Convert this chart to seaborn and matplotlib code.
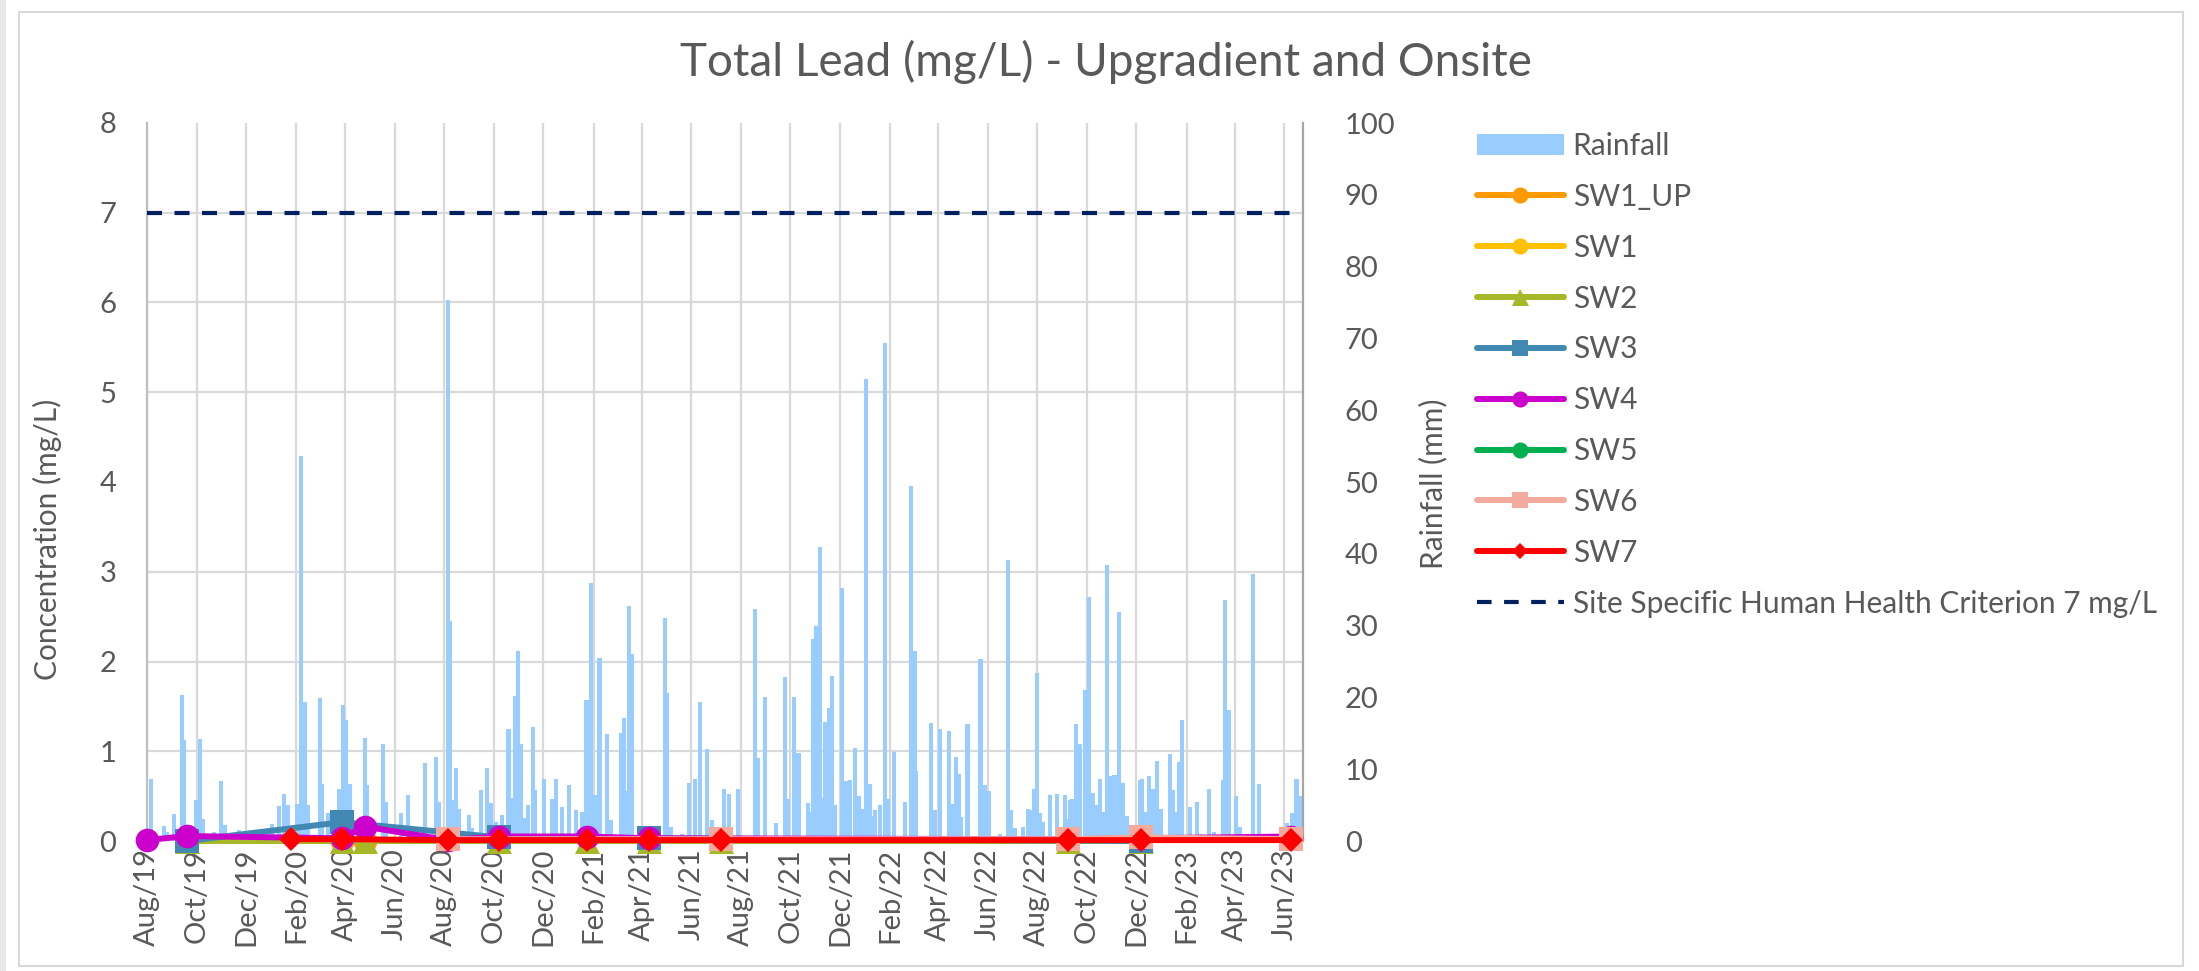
import matplotlib
matplotlib.use("Agg")
import matplotlib.pyplot as plt
import matplotlib.dates as mdates
from matplotlib.lines import Line2D
from matplotlib.patches import Patch, Rectangle
from matplotlib.ticker import MultipleLocator
import pandas as pd
import seaborn as sns

sns.set_theme(style="white")
plt.rcParams["font.family"] = ["Lato", "DejaVu Sans"]

TEXT = "#595959"
W, H = 2199, 971

# ─── daily rainfall (mm) ─────────────────────────────────────────────────────
rain_dates = [
    "2019-08-06", "2019-08-22", "2019-08-26", "2019-09-03", "2019-09-13", "2019-09-15",
    "2019-09-30", "2019-10-05", "2019-10-09", "2019-10-22", "2019-10-31", "2019-11-05",
    "2019-11-22", "2020-01-02", "2020-01-11", "2020-01-17", "2020-01-21", "2020-02-02",
    "2020-02-06", "2020-02-12", "2020-02-15", "2020-03-01", "2020-03-03", "2020-03-11",
    "2020-03-24", "2020-03-29", "2020-04-02", "2020-04-07", "2020-04-25", "2020-04-28",
    "2020-05-18", "2020-05-21", "2020-06-09", "2020-06-17", "2020-07-08", "2020-07-22",
    "2020-07-25", "2020-08-05", "2020-08-08", "2020-08-11", "2020-08-15", "2020-08-19",
    "2020-08-31", "2020-09-04", "2020-09-15", "2020-09-22", "2020-09-27", "2020-10-04",
    "2020-10-11", "2020-10-19", "2020-10-23", "2020-10-27", "2020-10-31", "2020-11-03",
    "2020-11-08", "2020-11-12", "2020-11-18", "2020-11-21", "2020-12-02", "2020-12-12",
    "2020-12-17", "2020-12-24", "2021-01-01", "2021-01-10", "2021-01-18", "2021-01-23",
    "2021-01-28", "2021-02-03", "2021-02-08", "2021-02-17", "2021-02-22", "2021-03-06",
    "2021-03-10", "2021-03-13", "2021-03-16", "2021-03-20", "2021-04-30", "2021-05-02",
    "2021-05-07", "2021-05-21", "2021-05-29", "2021-06-05", "2021-06-12", "2021-06-20",
    "2021-06-26", "2021-07-11", "2021-07-18", "2021-07-29", "2021-08-18", "2021-08-22",
    "2021-08-31", "2021-09-13", "2021-09-24", "2021-09-28", "2021-10-06", "2021-10-11",
    "2021-10-23", "2021-10-26", "2021-10-29", "2021-11-01", "2021-11-06", "2021-11-10",
    "2021-11-13", "2021-11-17", "2021-11-21", "2021-11-25", "2021-12-04", "2021-12-09",
    "2021-12-13", "2021-12-19", "2021-12-24", "2021-12-29", "2022-01-02", "2022-01-07",
    "2022-01-10", "2022-01-13", "2022-01-19", "2022-01-25", "2022-01-29", "2022-02-06",
    "2022-02-19", "2022-02-27", "2022-03-03", "2022-03-05", "2022-03-23", "2022-03-28",
    "2022-04-03", "2022-04-14", "2022-04-18", "2022-04-23", "2022-04-26", "2022-04-29",
    "2022-05-07", "2022-05-23", "2022-05-29", "2022-06-03", "2022-06-16", "2022-06-26",
    "2022-06-30", "2022-07-05", "2022-07-14", "2022-07-20", "2022-07-25", "2022-07-28",
    "2022-07-31", "2022-08-04", "2022-08-08", "2022-08-17", "2022-08-25", "2022-09-04",
    "2022-09-07", "2022-09-10", "2022-09-13", "2022-09-18", "2022-09-22", "2022-09-29",
    "2022-10-03", "2022-10-09", "2022-10-12", "2022-10-17", "2022-10-21", "2022-10-26",
    "2022-10-31", "2022-11-04", "2022-11-09", "2022-11-15", "2022-11-19", "2022-12-05",
    "2022-12-08", "2022-12-12", "2022-12-17", "2022-12-21", "2022-12-26", "2022-12-31",
    "2023-01-11", "2023-01-15", "2023-01-20", "2023-01-23", "2023-01-26", "2023-02-05",
    "2023-02-13", "2023-02-19", "2023-02-28", "2023-03-06", "2023-03-17", "2023-03-20",
    "2023-03-25", "2023-04-02", "2023-04-07", "2023-04-23", "2023-05-01", "2023-06-04",
    "2023-06-10", "2023-06-16", "2023-06-21",
]
rain_mm = [
    8.6, 2.1, 1.3, 3.8, 20.3, 14.0,
    5.7, 14.2, 3.0, 1.3, 8.4, 2.2,
    1.5, 2.3, 4.9, 6.6, 5.0, 5.2,
    53.6, 19.3, 5.0, 19.9, 8.0, 3.9,
    7.3, 18.9, 16.8, 8.0, 14.3, 7.8,
    13.5, 5.5, 3.9, 6.4, 10.9, 11.7,
    5.5, 75.4, 30.7, 5.7, 10.1, 4.5,
    3.6, 1.8, 7.1, 10.1, 5.3, 2.7,
    3.6, 15.6, 6.0, 20.2, 26.5, 13.5,
    3.2, 5.0, 15.9, 7.1, 8.7, 5.9,
    8.7, 4.8, 7.8, 4.3, 4.0, 19.6,
    36.0, 6.4, 25.5, 14.9, 2.9, 15.0,
    17.1, 7.0, 32.7, 26.0, 31.0, 20.6,
    2.0, 1.0, 8.1, 8.6, 19.4, 12.8,
    2.9, 7.3, 6.6, 7.3, 32.3, 11.5,
    20.1, 2.5, 22.8, 5.9, 20.0, 12.3,
    5.3, 4.0, 28.1, 29.9, 41.0, 6.0,
    16.6, 18.5, 23.0, 5.0, 35.3, 8.3,
    8.5, 13.0, 6.2, 4.5, 64.4, 8.0,
    3.5, 4.3, 5.0, 69.4, 5.9, 12.4,
    5.5, 49.4, 26.5, 9.7, 16.4, 4.3,
    15.6, 15.3, 5.2, 11.7, 9.4, 3.4,
    16.3, 25.3, 7.8, 6.9, 1.0, 39.2,
    4.3, 1.8, 2.0, 4.5, 4.3, 7.3,
    23.4, 3.9, 2.7, 6.4, 6.6, 6.4,
    3.0, 5.7, 5.8, 16.3, 13.5, 21.1,
    34.0, 6.7, 5.0, 8.6, 4.0, 38.4,
    9.1, 9.2, 31.9, 8.1, 3.5, 8.5,
    8.6, 4.0, 9.0, 7.2, 11.1, 4.5,
    12.1, 7.1, 4.1, 11.0, 16.9, 4.8,
    5.5, 1.0, 7.3, 1.3, 8.5, 33.6,
    18.2, 6.3, 2.0, 37.2, 8.0, 2.5,
    3.9, 8.6, 6.2,
]

# ─── total lead results (mg/L) ───────────────────────────────────────────────
sw1_up_dates = ["2020-03-28", "2020-04-25"]
sw1_up_vals = [0.0, 0.0]

sw1_dates = []
sw1_vals = []

sw2_dates = ["2019-09-19", "2020-03-28", "2020-04-25", "2020-10-07", "2021-01-24",
             "2021-04-10", "2021-07-08", "2022-09-08", "2022-12-07"]
sw2_vals = [0.0, 0.0, 0.0, 0.0, 0.0, 0.0, 0.0, 0.0, 0.0]

sw3_dates = ["2019-09-19", "2020-03-28", "2020-10-07", "2021-04-10", "2022-12-07"]
sw3_vals = [0.0, 0.21, 0.04, 0.03, 0.0]

sw4_dates = ["2019-08-01", "2019-09-19", "2020-03-28", "2020-04-25", "2020-08-06",
             "2020-10-07", "2021-01-24", "2021-04-10", "2022-09-08", "2022-12-07",
             "2023-06-09"]
sw4_vals = [0.01, 0.055, 0.03, 0.16, 0.01, 0.05, 0.05, 0.03, 0.02, 0.03, 0.05]

sw5_dates = []
sw5_vals = []

sw6_dates = ["2020-08-06", "2021-07-08", "2022-09-08", "2022-12-07", "2023-06-09"]
sw6_vals = [0.02, 0.02, 0.02, 0.04, 0.02]

sw7_dates = ["2020-01-25", "2020-03-28", "2020-08-06", "2020-10-07", "2021-01-24",
             "2021-04-10", "2021-07-08", "2022-09-08", "2022-12-07", "2023-06-09"]
sw7_vals = [0.02, 0.02, 0.01, 0.01, 0.01, 0.01, 0.01, 0.01, 0.01, 0.01]

criterion_dates = ["2019-08-01", "2023-06-09"]
criterion_vals = [7, 7]

series = [
    ("SW1_UP", sw1_up_dates, sw1_up_vals, "#FF9900", "o", 17),
    ("SW1", sw1_dates, sw1_vals, "#FFC000", "o", 17),
    ("SW2", sw2_dates, sw2_vals, "#A6B727", "^", 18),
    ("SW3", sw3_dates, sw3_vals, "#4189B3", "s", 17),
    ("SW4", sw4_dates, sw4_vals, "#CC00CC", "o", 17),
    ("SW5", sw5_dates, sw5_vals, "#00B050", "o", 17),
    ("SW6", sw6_dates, sw6_vals, "#F4AA9D", "s", 17),
    ("SW7", sw7_dates, sw7_vals, "#FF0000", "D", 12.5),
]

# ─── figure ──────────────────────────────────────────────────────────────────
fig = plt.figure(figsize=(W / 100, H / 100), dpi=100)
fig.patches.append(Rectangle((0, 0), 6 / W, 1, transform=fig.transFigure,
                             facecolor="#e8e8e8", edgecolor="none"))
fig.patches.append(Rectangle((19 / W, 1 - 966 / H), (2183 - 19) / W, (966 - 12) / H,
                             transform=fig.transFigure, facecolor="none",
                             edgecolor="#d9d9d9", linewidth=1.5))

# rainfall sits on the host axes (right scale) so it draws behind the results
ax = fig.add_axes([147 / W, 1 - 841 / H, (1303 - 147) / W, (841 - 123) / H])
ax.bar(pd.to_datetime(rain_dates), rain_mm, width=5, color="#99CCFF",
       linewidth=0, zorder=2)

# concentrations on the twin axes (left scale)
axc = ax.twinx()

for name, dates, vals, color, marker, ms in series:
    if not dates:
        continue
    sns.lineplot(x=pd.to_datetime(dates), y=vals, ax=axc, color=color, marker=marker,
                 markersize=ms, markeredgewidth=0, linewidth=4.3, errorbar=None,
                 legend=False, zorder=3, clip_on=False)

sns.lineplot(x=pd.to_datetime(criterion_dates), y=criterion_vals, ax=axc,
             color="#002060", linewidth=3, errorbar=None, legend=False,
             zorder=4).lines[-1].set_dashes((3.6, 3.0))

# axes styling (after twinx, which resets tick sides)
ax.set_ylim(0, 100)
ax.set_xlim(pd.Timestamp("2019-08-01"), pd.Timestamp("2023-06-24"))
ax.yaxis.set_major_locator(MultipleLocator(10))
ax.yaxis.set_minor_locator(MultipleLocator(12.5))
ax.yaxis.tick_right()
ax.yaxis.set_label_position("right")
ax.xaxis.set_major_locator(mdates.MonthLocator(bymonth=[2, 4, 6, 8, 10, 12]))
ax.xaxis.set_major_formatter(mdates.DateFormatter("%b/%y"))
ax.set_axisbelow(True)
ax.grid(False)
ax.xaxis.grid(True, which="major", color="#d9d9d9", linewidth=1.6)
ax.yaxis.grid(True, which="minor", color="#d9d9d9", linewidth=1.6)
ax.tick_params(axis="x", which="both", length=0, pad=5, rotation=90,
               labelsize=21, labelcolor=TEXT)
ax.tick_params(axis="y", which="both", length=0, pad=30, labelsize=21,
               labelcolor=TEXT, labelleft=False, labelright=True)
ax.set_ylabel("Rainfall (mm)", fontsize=21.5, color=TEXT)
ax.yaxis.set_label_coords(1.100, 0.497)
ax.set_xlabel("")
for side in ("top", "bottom", "left"):
    ax.spines[side].set_visible(False)
ax.spines["right"].set_color("#a6a6a6")
ax.spines["right"].set_linewidth(1.6)

axc.yaxis.tick_left()
axc.yaxis.set_label_position("left")
axc.set_ylim(0, 8)
axc.set_yticks(range(0, 9))
axc.set_xlim(pd.Timestamp("2019-08-01"), pd.Timestamp("2023-06-24"))
axc.tick_params(axis="y", length=0, pad=22, labelsize=21, labelcolor=TEXT,
                labelleft=True, labelright=False)
for side in ("top", "bottom", "right"):
    axc.spines[side].set_visible(False)
axc.spines["left"].set_color("#bfbfbf")
axc.spines["left"].set_linewidth(1.6)
axc.set_ylabel("Concentration (mg/L)", fontsize=21.5, color=TEXT)
axc.yaxis.set_label_coords(-0.0735, 0.42)
axc.set_xlabel("")

fig.text(1106 / W, 1 - 62 / H, "Total Lead (mg/L) - Upgradient and Onsite",
         ha="center", va="center", fontsize=33, color=TEXT)

# ─── legend ──────────────────────────────────────────────────────────────────
handles = [Patch(facecolor="#99CCFF", edgecolor="none", label="Rainfall")]
for name, dates, vals, color, marker, ms in series:
    handles.append(Line2D([], [], color=color, marker=marker, markersize=ms * 0.68,
                          markeredgewidth=0, linewidth=4.3, label=name))
handles.append(Line2D([], [], color="#002060", linewidth=3, dashes=(3.5, 3.0),
                      label="Site Specific Human Health Criterion 7 mg/L"))
fig.legend(handles=handles, loc="upper left", bbox_to_anchor=(1477 / W, 1 - 132 / H),
           frameon=False, fontsize=21.5, labelcolor=TEXT, handlelength=2.9,
           handleheight=0.7, handletextpad=0.3, labelspacing=0.765,
           borderpad=0, borderaxespad=0)

fig.savefig("out.png", dpi=100, facecolor="white")
